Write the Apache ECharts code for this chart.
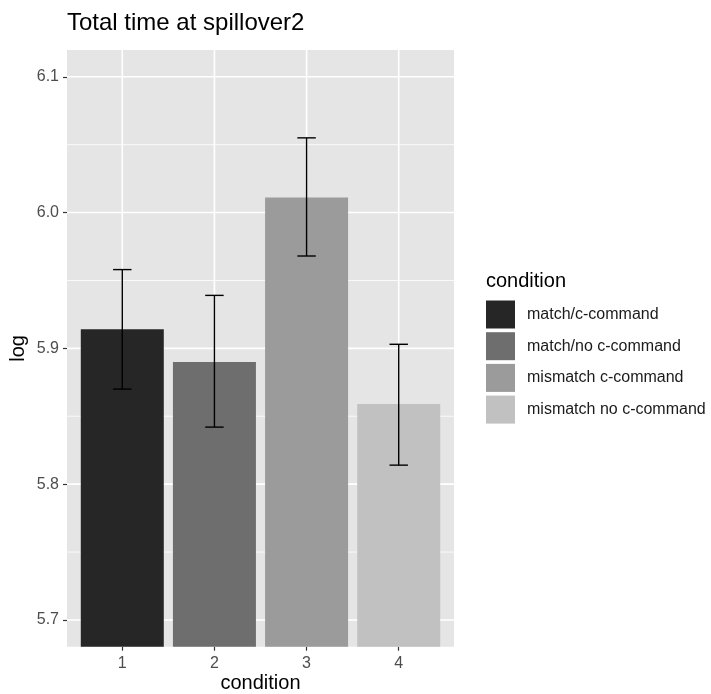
<!DOCTYPE html>
<html>
<head>
<meta charset="utf-8">
<script src="https://cdn.jsdelivr.net/npm/echarts@6/dist/echarts.min.js"></script>
<style>
  html, body { margin: 0; padding: 0; background: #fff; }
  #chart { width: 711px; height: 694px; }
</style>
</head>
<body>
<div id="chart"></div>
<script>
// Condition labels and their positions on the x scale
var conditionTicks = [1, 2, 3, 4];
var conditionNames = ['match/c-command', 'match/no c-command', 'mismatch c-command', 'mismatch no c-command'];
var barColors = ['#262626', '#6e6e6e', '#9b9b9b', '#c1c1c1'];

// Mean log total time and error-bar limits per condition
var meanLog = [5.914, 5.890, 6.011, 5.859];
var lowerLog = [5.870, 5.842, 5.968, 5.814];
var upperLog = [5.958, 5.939, 6.055, 5.903];

// Axis tick values
var yMajor = [5.7, 5.8, 5.9, 6.0, 6.1];
var yMinor = [5.75, 5.85, 5.95, 6.05];

var Y_MIN = 5.6803, Y_MAX = 6.1197;
var X_MIN = 0.4, X_MAX = 4.6;

var FONT = 'Liberation Sans, Arial';

var chart = echarts.init(document.getElementById('chart'), null, { renderer: 'canvas' });

// Panel grid lines drawn behind the bars
function gridLineRenderer(orient, width) {
  return function (params, api) {
    var v = api.value(0);
    var a, b;
    if (orient === 'h') {
      a = api.coord([X_MIN, v]); b = api.coord([X_MAX, v]);
    } else {
      a = api.coord([v, Y_MIN]); b = api.coord([v, Y_MAX]);
    }
    return {
      type: 'line',
      shape: { x1: a[0], y1: a[1], x2: b[0], y2: b[1] },
      style: { stroke: '#ffffff', lineWidth: width },
      silent: true
    };
  };
}

var series = [
  {
    type: 'custom', name: 'minorH', z: 1, silent: true,
    renderItem: gridLineRenderer('h', 0.8),
    data: yMinor.map(function (v) { return [v]; }),
    encode: { y: 0 }
  },
  {
    type: 'custom', name: 'majorH', z: 1, silent: true,
    renderItem: gridLineRenderer('h', 1.6),
    data: yMajor.map(function (v) { return [v]; }),
    encode: { y: 0 }
  },
  {
    type: 'custom', name: 'majorV', z: 1, silent: true,
    renderItem: gridLineRenderer('v', 1.6),
    data: conditionTicks.map(function (v) { return [v]; }),
    encode: { x: 0 }
  }
];

conditionNames.forEach(function (name, i) {
  series.push({
    type: 'bar',
    name: name,
    z: 2,
    barWidth: 83,
    barGap: '-100%',
    itemStyle: { color: barColors[i] },
    data: [[conditionTicks[i], meanLog[i]]]
  });
});

// Error bars with caps
series.push({
  type: 'custom',
  name: 'errors',
  z: 3,
  silent: true,
  data: conditionTicks.map(function (x, i) { return [x, lowerLog[i], upperLog[i]]; }),
  encode: { x: 0, y: [1, 2] },
  renderItem: function (params, api) {
    var x = api.value(0);
    var lo = api.coord([x, api.value(1)]);
    var hi = api.coord([x, api.value(2)]);
    var capL = api.coord([x - 0.1, 0])[0];
    var capR = api.coord([x + 0.1, 0])[0];
    var st = { stroke: '#000000', lineWidth: 1.4 };
    return {
      type: 'group',
      children: [
        { type: 'line', shape: { x1: lo[0], y1: lo[1], x2: hi[0], y2: hi[1] }, style: st },
        { type: 'line', shape: { x1: capL, y1: hi[1], x2: capR, y2: hi[1] }, style: st },
        { type: 'line', shape: { x1: capL, y1: lo[1], x2: capR, y2: lo[1] }, style: st }
      ]
    };
  }
});

var option = {
  animation: false,
  backgroundColor: '#ffffff',
  title: [
    {
      text: 'Total time at spillover2',
      left: 67, top: 11, padding: 0,
      textStyle: { fontFamily: FONT, fontSize: 24, fontWeight: 'normal', color: '#000000' }
    },
    {
      text: 'condition',
      left: 486, top: 271, padding: 0,
      textStyle: { fontFamily: FONT, fontSize: 20, fontWeight: 'normal', color: '#000000' }
    }
  ],
  legend: {
    orient: 'vertical',
    left: 486, top: 300.5, padding: 0,
    icon: 'rect',
    itemWidth: 29, itemHeight: 28, itemGap: 3.7,
    selectedMode: false,
    data: conditionNames,
    textStyle: { fontFamily: FONT, fontSize: 16, color: '#1a1a1a', padding: [0, 0, 0, 7] }
  },
  grid: {
    left: 67, top: 50, width: 387, height: 596.7,
    show: true, backgroundColor: '#e5e5e5', borderWidth: 0,
    containLabel: false,
    outerBoundsMode: 'none'
  },
  xAxis: {
    type: 'value',
    min: X_MIN, max: X_MAX,
    name: 'condition',
    nameLocation: 'middle',
    nameGap: 27,
    nameMoveOverlap: false,
    nameTextStyle: { fontFamily: FONT, fontSize: 20, color: '#000000' },
    axisLine: { show: false },
    axisTick: { show: true, length: 4, lineStyle: { color: '#333333', width: 1.2 }, customValues: conditionTicks },
    axisLabel: {
      customValues: conditionTicks,
      margin: 9,
      fontFamily: FONT, fontSize: 16, color: '#4d4d4d',
      formatter: function (v) { return String(Math.round(v)); }
    },
    splitLine: { show: false }
  },
  yAxis: {
    type: 'value',
    min: Y_MIN, max: Y_MAX,
    name: 'log',
    nameLocation: 'middle',
    nameGap: 39,
    nameRotate: 90,
    nameMoveOverlap: false,
    nameTextStyle: { fontFamily: FONT, fontSize: 20, color: '#000000' },
    axisLine: { show: false },
    axisTick: { show: true, length: 4, lineStyle: { color: '#333333', width: 1.2 }, customValues: yMajor },
    axisLabel: {
      customValues: yMajor,
      margin: 8,
      fontFamily: FONT, fontSize: 16, color: '#4d4d4d',
      formatter: function (v) { return v.toFixed(1); }
    },
    splitLine: { show: false }
  },
  series: series
};

chart.setOption(option);
</script>
</body>
</html>
